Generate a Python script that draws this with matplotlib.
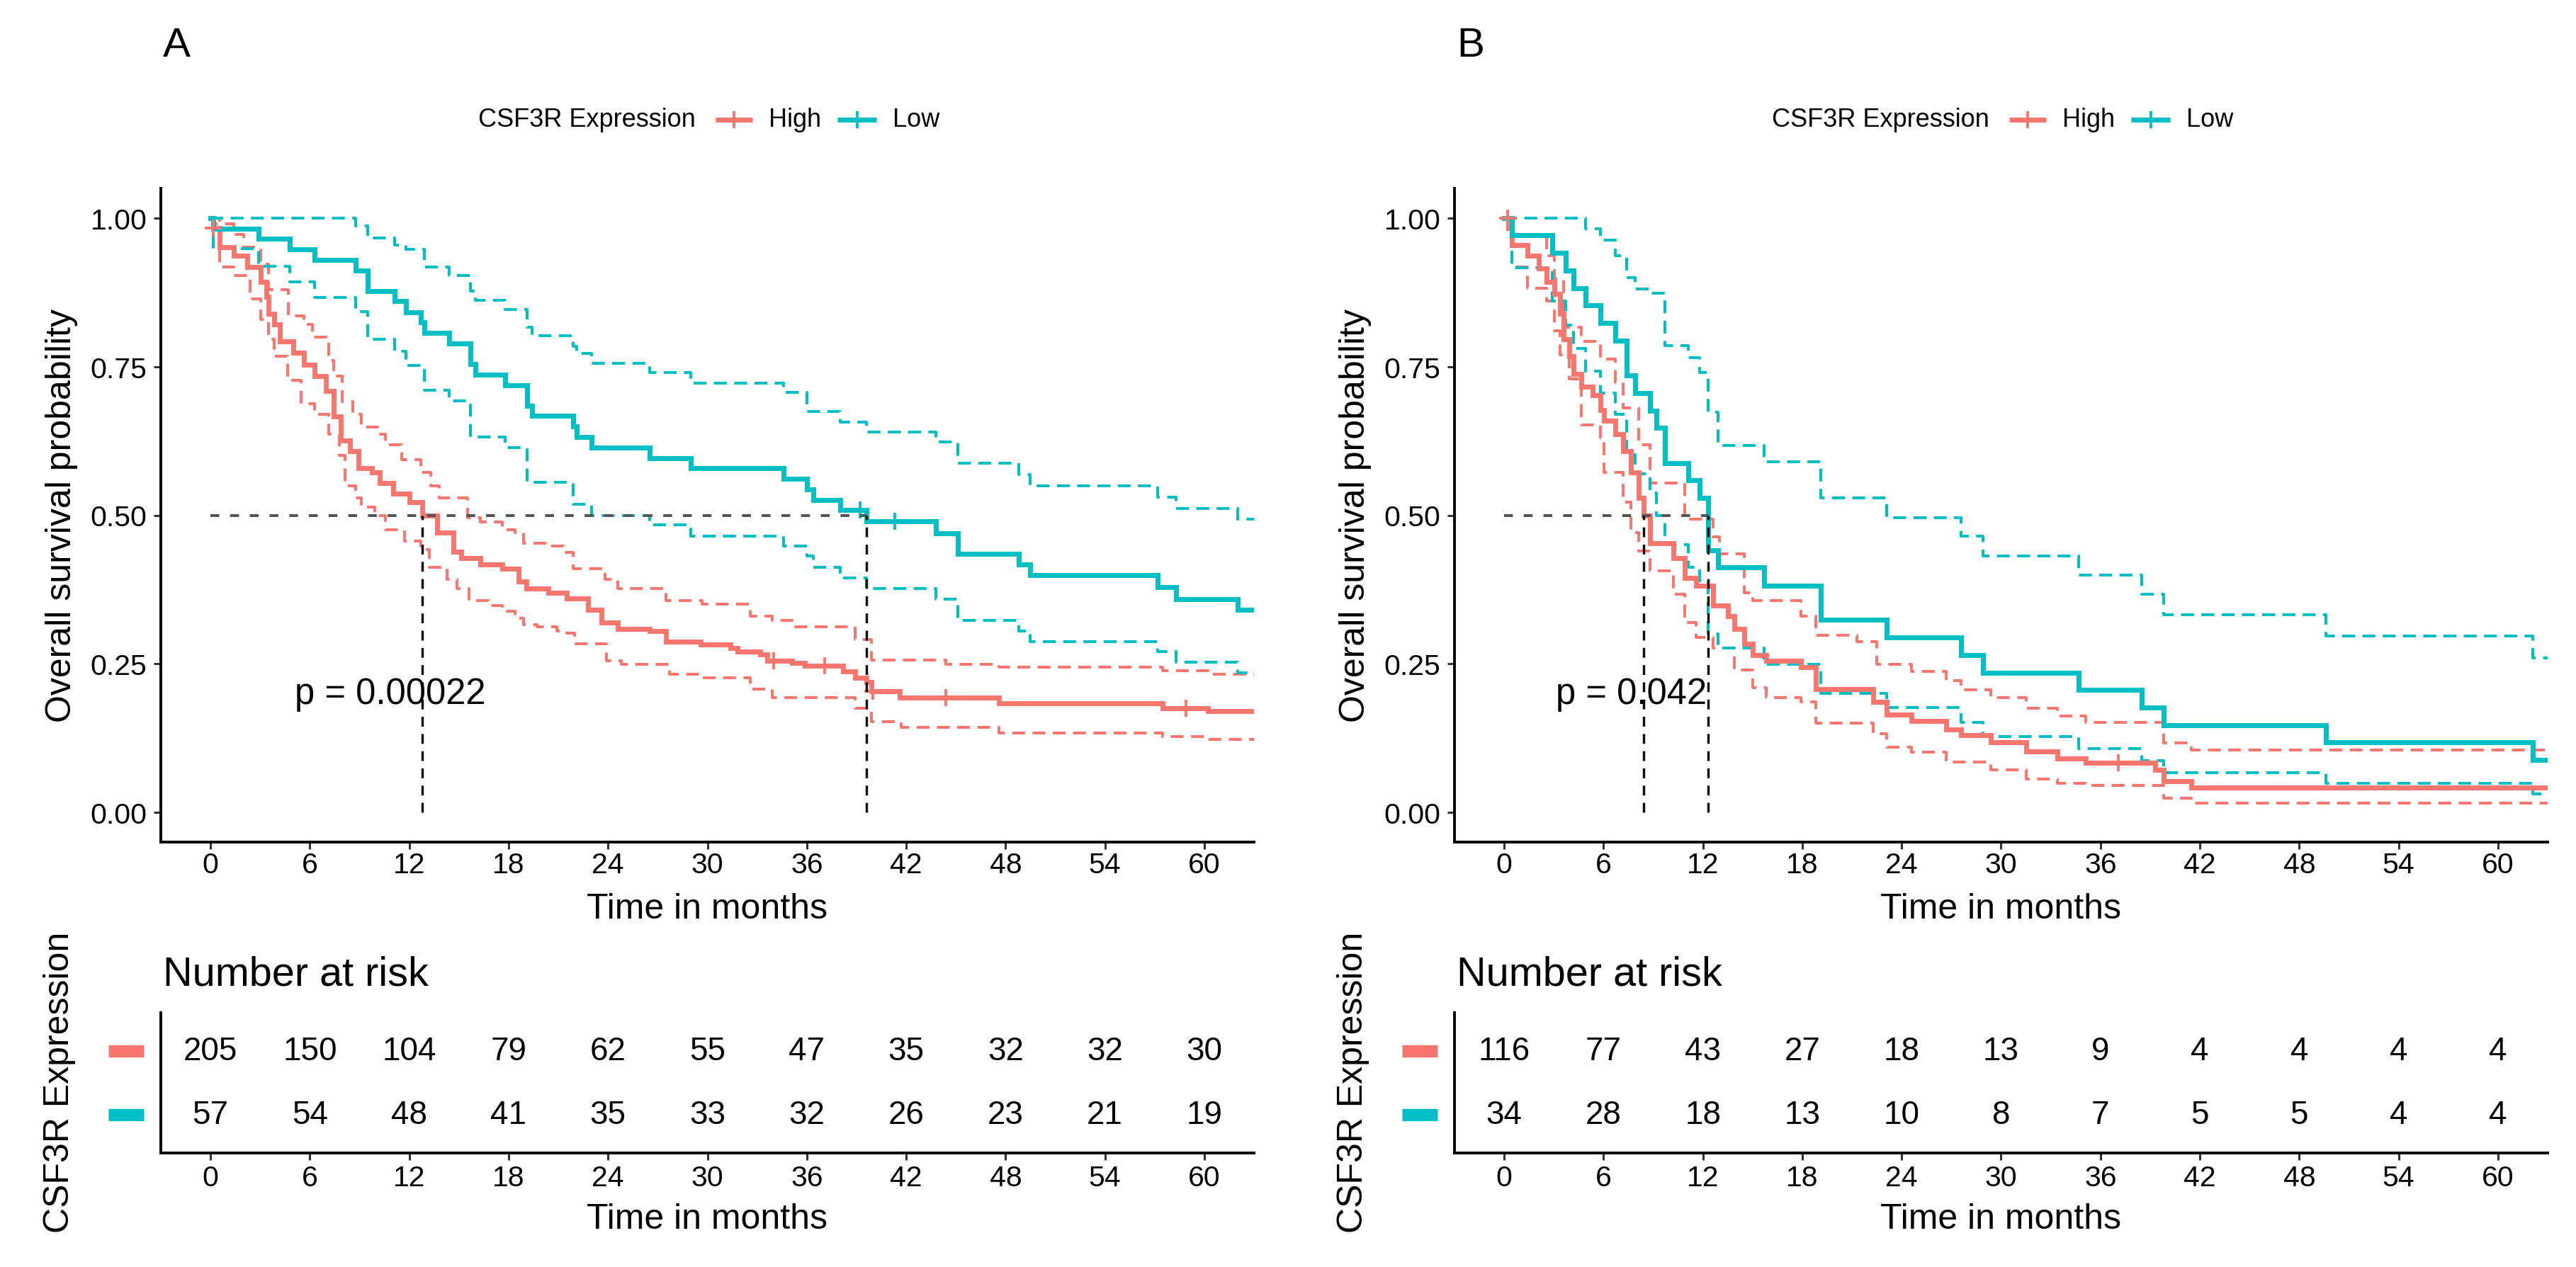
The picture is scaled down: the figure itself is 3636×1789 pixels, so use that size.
import numpy as np
import matplotlib
matplotlib.use("Agg")
import matplotlib.pyplot as plt

plt.rcParams['font.family'] = ['Liberation Sans', 'DejaVu Sans']

RED = "#F8766D"
CYAN = "#00BFC4"

# ---------------- Panel A data ----------------
a_high_t = [0, 0.16, 0.57, 1.39, 2.2, 3.03, 3.36, 3.52, 3.85, 4.17, 4.99, 5.65, 6.3, 6.96,
            7.45, 7.86, 8.43, 8.92, 9.74, 10.23, 11.05, 12.03, 12.77, 13.67, 14.65, 15.14,
            16.28, 17.6, 18.58, 19.07, 20.38, 21.5, 22.8, 23.6, 24.6, 26.5, 27.5, 29.6, 31.4,
            31.8, 33.2, 33.6, 35.1, 35.9, 38.2, 38.9, 39.6, 39.9, 41.6, 47.6, 57.5, 60.2]
a_high_s = [1.0, 0.983, 0.951, 0.937, 0.918, 0.893, 0.868, 0.839, 0.821, 0.792, 0.774, 0.753,
            0.734, 0.709, 0.666, 0.626, 0.608, 0.579, 0.572, 0.554, 0.536, 0.522, 0.5, 0.471,
            0.439, 0.428, 0.417, 0.41, 0.388, 0.377, 0.37, 0.36, 0.341, 0.32, 0.309, 0.305,
            0.287, 0.282, 0.276, 0.271, 0.266, 0.255, 0.251, 0.247, 0.237, 0.226, 0.219, 0.204,
            0.193, 0.183, 0.175, 0.17]
a_high_up_t = [0, 0.16, 1.4, 2.0, 3.03, 3.52, 4.7, 5.65, 6.14, 7.12, 7.45, 7.94, 8.6, 9.1,
               10.07, 10.56, 11.54, 12.68, 13.3, 13.8, 15.5, 16.3, 17.6, 18.4, 18.9, 20.4, 21.3,
               21.9, 23.8, 24.6, 27.5, 29.7, 32.6, 33.9, 35.2, 38.9, 39.9, 44.4, 47.6, 57.5, 60.2]
a_high_up_s = [1.0, 0.99, 0.973, 0.951, 0.922, 0.879, 0.835, 0.821, 0.8, 0.76, 0.734, 0.691,
               0.67, 0.648, 0.637, 0.619, 0.594, 0.572, 0.55, 0.529, 0.496, 0.489, 0.475, 0.471,
               0.453, 0.448, 0.437, 0.41, 0.392, 0.377, 0.356, 0.35, 0.33, 0.323, 0.312, 0.291,
               0.256, 0.249, 0.244, 0.238, 0.232]
a_high_lo_t = [0, 0.57, 1.39, 2.4, 3.03, 3.52, 3.85, 4.66, 5.48, 6.3, 7.12, 7.77, 8.1, 8.76,
               9.1, 9.9, 10.56, 11.7, 12.68, 13.2, 14.3, 14.9, 15.6, 16.8, 17.6, 18.4, 18.9,
               19.7, 20.9, 21.5, 22.0, 23.9, 24.8, 27.7, 29.7, 32.6, 33.9, 38.9, 39.9, 41.7,
               47.6, 57.5, 60.2]
a_high_lo_s = [1.0, 0.918, 0.904, 0.864, 0.83, 0.796, 0.767, 0.727, 0.688, 0.67, 0.637, 0.601,
               0.55, 0.529, 0.514, 0.5, 0.475, 0.457, 0.442, 0.413, 0.392, 0.377, 0.356, 0.348,
               0.338, 0.327, 0.316, 0.312, 0.305, 0.302, 0.284, 0.255, 0.249, 0.232, 0.226,
               0.208, 0.193, 0.175, 0.153, 0.143, 0.133, 0.128, 0.123]
a_high_cens = [0.16, 34.0, 37.1, 40.0, 44.4, 58.9]

a_low_t = [0, 0.16, 2.9, 4.8, 6.3, 8.75, 9.5, 11.1, 11.8, 12.7, 12.9, 14.4, 15.7, 16.0, 17.8,
           19.1, 19.4, 21.9, 22.1, 23.0, 26.5, 29.0, 34.6, 36.0, 36.4, 38.0, 39.6, 43.8, 45.1,
           48.8, 49.5, 57.2, 58.3, 62.0]
a_low_s = [1.0, 0.982, 0.965, 0.947, 0.93, 0.912, 0.877, 0.86, 0.842, 0.825, 0.807, 0.789,
           0.754, 0.737, 0.719, 0.684, 0.667, 0.649, 0.632, 0.614, 0.596, 0.579, 0.561, 0.544,
           0.526, 0.509, 0.49, 0.47, 0.435, 0.417, 0.399, 0.379, 0.359, 0.341]
a_low_up_t = [0, 8.75, 9.5, 11.1, 11.8, 12.9, 14.4, 15.7, 16.0, 17.8, 19.1, 19.4, 21.9, 22.1,
              23.0, 26.5, 29.0, 34.6, 36.0, 38.0, 39.6, 43.8, 45.1, 48.8, 49.5, 57.2, 58.3, 62.0]
a_low_up_s = [1.0, 0.987, 0.966, 0.955, 0.948, 0.918, 0.903, 0.877, 0.862, 0.846, 0.816, 0.802,
              0.784, 0.772, 0.756, 0.74, 0.722, 0.707, 0.675, 0.657, 0.64, 0.623, 0.587, 0.569,
              0.549, 0.53, 0.511, 0.493]
a_low_lo_t = [0, 0.16, 2.9, 4.8, 6.3, 8.75, 9.5, 11.1, 11.8, 12.9, 14.4, 15.7, 17.8, 19.1,
              21.9, 23.0, 26.5, 29.0, 34.6, 36.0, 36.4, 38.0, 39.6, 43.8, 45.1, 48.8, 49.5,
              57.2, 58.3, 62.0]
a_low_lo_s = [1.0, 0.949, 0.919, 0.893, 0.867, 0.843, 0.796, 0.776, 0.752, 0.71, 0.693, 0.632,
              0.614, 0.556, 0.518, 0.5, 0.484, 0.465, 0.448, 0.431, 0.412, 0.395, 0.377, 0.359,
              0.323, 0.305, 0.287, 0.271, 0.253, 0.235]
a_low_cens = [39.2, 41.3]

a_medians = [12.77, 39.6]
a_pval = "p = 0.00022"
a_pval_x = 5.1
a_risk_high = [205, 150, 104, 79, 62, 55, 47, 35, 32, 32, 30]
a_risk_low = [57, 54, 48, 41, 35, 33, 32, 26, 23, 21, 19]

# ---------------- Panel B data ----------------
b_high_t = [0, 0.23, 0.46, 1.39, 2.09, 2.55, 3.02, 3.36, 3.6, 3.94, 4.18, 4.64, 5.34, 5.8,
            6.03, 6.73, 7.19, 7.66, 8.12, 8.42, 8.82, 10.2, 10.9, 11.6, 12.6, 13.5, 13.9, 14.5,
            15.0, 15.8, 17.9, 18.8, 22.3, 23.1, 24.6, 26.7, 27.6, 29.4, 31.5, 33.4, 35.1, 39.3,
            39.8, 41.5]
b_high_s = [1.0, 0.983, 0.955, 0.937, 0.915, 0.893, 0.872, 0.839, 0.796, 0.767, 0.738, 0.716,
            0.702, 0.677, 0.659, 0.637, 0.608, 0.572, 0.529, 0.5, 0.453, 0.428, 0.395, 0.381,
            0.348, 0.33, 0.309, 0.284, 0.265, 0.255, 0.244, 0.208, 0.186, 0.165, 0.154, 0.139,
            0.13, 0.118, 0.103, 0.091, 0.083, 0.071, 0.053, 0.042]
b_high_up_t = [0, 0.46, 2.55, 3.02, 3.6, 4.64, 5.8, 6.73, 7.19, 8.12, 8.82, 10.9, 12.6, 13.0,
               14.5, 15.0, 17.9, 18.8, 21.3, 22.5, 24.6, 26.7, 27.6, 29.4, 31.5, 33.4, 35.1,
               39.8, 41.5]
b_high_up_s = [1.0, 0.973, 0.937, 0.897, 0.817, 0.792, 0.763, 0.724, 0.68, 0.619, 0.554, 0.493,
               0.464, 0.435, 0.37, 0.356, 0.33, 0.298, 0.287, 0.249, 0.237, 0.222, 0.206, 0.193,
               0.175, 0.162, 0.152, 0.117, 0.105]
b_high_lo_t = [0, 0.46, 1.39, 2.55, 3.02, 3.36, 3.94, 4.64, 5.8, 6.03, 7.19, 7.66, 8.12, 8.82,
               10.2, 10.9, 11.6, 12.6, 13.9, 15.0, 15.8, 17.9, 18.8, 22.3, 23.1, 24.6, 26.7,
               29.4, 31.5, 33.4, 35.1, 39.8, 41.5]
b_high_lo_s = [1.0, 0.918, 0.882, 0.861, 0.81, 0.77, 0.73, 0.652, 0.63, 0.572, 0.522, 0.471,
               0.44, 0.406, 0.367, 0.32, 0.294, 0.276, 0.24, 0.21, 0.193, 0.186, 0.15, 0.132,
               0.11, 0.101, 0.085, 0.071, 0.056, 0.049, 0.045, 0.024, 0.015]
b_high_cens = [0.2, 37.1]

b_low_t = [0, 0.46, 2.9, 3.7, 4.2, 4.9, 5.8, 6.7, 7.4, 7.9, 8.8, 9.2, 9.7, 11.1, 11.8, 12.3,
           12.9, 15.7, 19.1, 23.1, 27.6, 28.9, 34.7, 38.5, 39.8, 49.6, 62.1]
b_low_s = [1.0, 0.971, 0.941, 0.912, 0.882, 0.853, 0.824, 0.794, 0.735, 0.706, 0.676, 0.647,
           0.588, 0.559, 0.529, 0.441, 0.412, 0.382, 0.324, 0.294, 0.265, 0.235, 0.206, 0.176,
           0.147, 0.118, 0.088]
b_low_up_t = [0, 4.9, 5.8, 6.7, 7.4, 7.9, 8.8, 9.7, 11.1, 11.8, 12.3, 12.9, 15.7, 19.1, 23.1,
              27.6, 28.9, 34.7, 38.5, 39.8, 49.6, 62.1]
b_low_up_s = [1.0, 0.982, 0.963, 0.937, 0.9, 0.881, 0.874, 0.785, 0.765, 0.74, 0.673, 0.617,
              0.59, 0.529, 0.496, 0.465, 0.432, 0.399, 0.367, 0.333, 0.297, 0.26]
b_low_lo_t = [0, 0.46, 2.9, 3.7, 4.2, 4.9, 5.8, 6.7, 7.4, 7.9, 8.8, 9.2, 9.7, 11.1, 11.8,
              12.3, 12.9, 15.7, 19.1, 23.1, 27.6, 28.9, 34.7, 38.5, 39.8, 49.6, 62.1]
b_low_lo_s = [1.0, 0.916, 0.861, 0.82, 0.781, 0.742, 0.706, 0.67, 0.602, 0.57, 0.538, 0.5,
              0.45, 0.412, 0.39, 0.3, 0.276, 0.249, 0.2, 0.177, 0.152, 0.128, 0.107, 0.087,
              0.067, 0.049, 0.031]
b_low_cens = []

b_medians = [8.42, 12.3]
b_pval = "p = 0.042"
b_pval_x = 3.1
b_risk_high = [116, 77, 43, 27, 18, 13, 9, 4, 4, 4, 4]
b_risk_low = [34, 28, 18, 13, 10, 8, 7, 5, 5, 4, 4]

risk_times = [0, 6, 12, 18, 24, 30, 36, 42, 48, 54, 60]
groups = ["High", "Low"]
legend_title = "CSF3R Expression"
x_ticks = [0, 6, 12, 18, 24, 30, 36, 42, 48, 54, 60]
y_ticks = [0.0, 0.25, 0.5, 0.75, 1.0]

# ---------------- layout ----------------
W, H = 3637, 1790
fig = plt.figure(figsize=(W / 100, H / 100), dpi=100)


def box(left, top, right, bottom):
    return [left / W, 1 - bottom / H, (right - left) / W, (bottom - top) / H]


def style_axis(ax):
    for side in ["top", "right"]:
        ax.spines[side].set_visible(False)
    for side in ["left", "bottom"]:
        ax.spines[side].set_linewidth(2.8)
        ax.spines[side].set_color("black")
    ax.tick_params(axis="both", length=7.2, width=2.2, color="#333333",
                   labelsize=29.5, labelcolor="black")


def surv_at(t, s, x):
    i = np.searchsorted(t, x, side="right") - 1
    return s[i]


def draw_panel(x0, letter, curves, medians, pval, pval_x, risk_high, risk_low):
    ax = fig.add_axes(box(x0, 267, x0 + 1543, 1190))
    rt = fig.add_axes(box(x0, 1431, x0 + 1543, 1629))

    # confidence bands (dashed) then survival curves
    for (t, s, ut, us, lt, ls, cens), col in zip(curves, [RED, CYAN]):
        for bt, bs in [(ut, us), (lt, ls)]:
            ax.plot(list(bt) + [70], list(bs) + [bs[-1]], drawstyle="steps-post", color=col,
                    lw=2.9, dashes=(4.5, 2.6), zorder=2)
    for (t, s, ut, us, lt, ls, cens), col in zip(curves, [RED, CYAN]):
        ax.plot(list(t) + [70], list(s) + [s[-1]], drawstyle="steps-post", color=col,
                lw=5, zorder=3, solid_joinstyle="miter")
        if cens:
            cy = [surv_at(np.array(t), np.array(s), c) for c in cens]
            ax.plot(cens, cy, ls="none", marker="+", ms=17, mew=2.8, color=col, zorder=4)

    # median lines
    ax.plot([0, max(medians)], [0.5, 0.5], color="#555555", lw=2.9, dashes=(3.1, 3.8), zorder=5)
    for m in medians:
        ax.plot([m, m], [0, 0.5], color="#111111", lw=2.5, dashes=(4.0, 3.0), zorder=5)

    ax.text(pval_x, 0.2, pval, fontsize=36.5, ha="left", va="center", zorder=6)

    ax.set_xlim(-3, 63)
    ax.set_ylim(-0.05, 1.05)
    ax.set_xticks(x_ticks)
    ax.set_yticks(y_ticks)
    ax.set_yticklabels(["%.2f" % v for v in y_ticks])
    style_axis(ax)
    ax.tick_params(axis="x", pad=2)
    ax.tick_params(axis="y", pad=7)
    ax.set_xlabel("Time in months", fontsize=36)
    ax.xaxis.label.set_va("center")
    ax.xaxis.set_label_coords(0.5, -0.1018)
    ax.set_ylabel("Overall survival probability", fontsize=36)
    ax.yaxis.label.set_va("center")
    ax.yaxis.set_label_coords(-0.0905, 0.5)

    # panel letter
    ax.text(0.002, 1.219, letter, transform=ax.transAxes, fontsize=42, ha="left", va="center")

    # legend (title + keys, horizontal)
    ly = 1.1051
    ax.text(0.2903, ly, legend_title, transform=ax.transAxes, fontsize=26,
            ha="left", va="center")
    for (k0, k1, tx), col, g in zip([(0.5075, 0.5411, 0.5561), (0.6189, 0.6546, 0.6695)],
                                    [RED, CYAN], groups):
        ax.plot([k0, k1], [ly, ly], transform=ax.transAxes, color=col, lw=5,
                solid_capstyle="butt", clip_on=False)
        ax.plot([(k0 + k1) / 2], [ly], transform=ax.transAxes, marker="+", ms=17, mew=2.8,
                color=col, clip_on=False)
        ax.text(tx, ly, g, transform=ax.transAxes, fontsize=26, ha="left", va="center")

    # risk table
    for x, n in zip(risk_times, risk_high):
        rt.text(x, 2, str(n), fontsize=33, ha="center", va="center")
    for x, n in zip(risk_times, risk_low):
        rt.text(x, 1, str(n), fontsize=33, ha="center", va="center")
    trans = rt.get_yaxis_transform()
    for yv, col in [(2, RED), (1, CYAN)]:
        rt.plot([-0.0478, -0.0155], [yv, yv], transform=trans, color=col, lw=12.5,
                solid_capstyle="butt", clip_on=False)
    rt.set_xlim(-3, 63)
    rt.set_ylim(0.4, 2.6)
    rt.set_xticks(x_ticks)
    rt.set_yticks([])
    style_axis(rt)
    rt.tick_params(axis="x", pad=4)
    rt.set_xlabel("Time in months", fontsize=36)
    rt.xaxis.label.set_va("center")
    rt.xaxis.set_label_coords(0.5, -0.4697)
    rt.set_ylabel(legend_title, fontsize=36)
    rt.yaxis.label.set_va("center")
    rt.yaxis.set_label_coords(-0.093, 0.51)
    rt.text(0.002, 1.273, "Number at risk", transform=rt.transAxes, fontsize=41.5,
            ha="left", va="center")


curves_a = [(a_high_t, a_high_s, a_high_up_t, a_high_up_s, a_high_lo_t, a_high_lo_s, a_high_cens),
            (a_low_t, a_low_s, a_low_up_t, a_low_up_s, a_low_lo_t, a_low_lo_s, a_low_cens)]
curves_b = [(b_high_t, b_high_s, b_high_up_t, b_high_up_s, b_high_lo_t, b_high_lo_s, b_high_cens),
            (b_low_t, b_low_s, b_low_up_t, b_low_up_s, b_low_lo_t, b_low_lo_s, b_low_cens)]

draw_panel(227, "A", curves_a, a_medians, a_pval, a_pval_x, a_risk_high, a_risk_low)
draw_panel(2053, "B", curves_b, b_medians, b_pval, b_pval_x, b_risk_high, b_risk_low)

fig.savefig("out.png", dpi=100, facecolor="white")
